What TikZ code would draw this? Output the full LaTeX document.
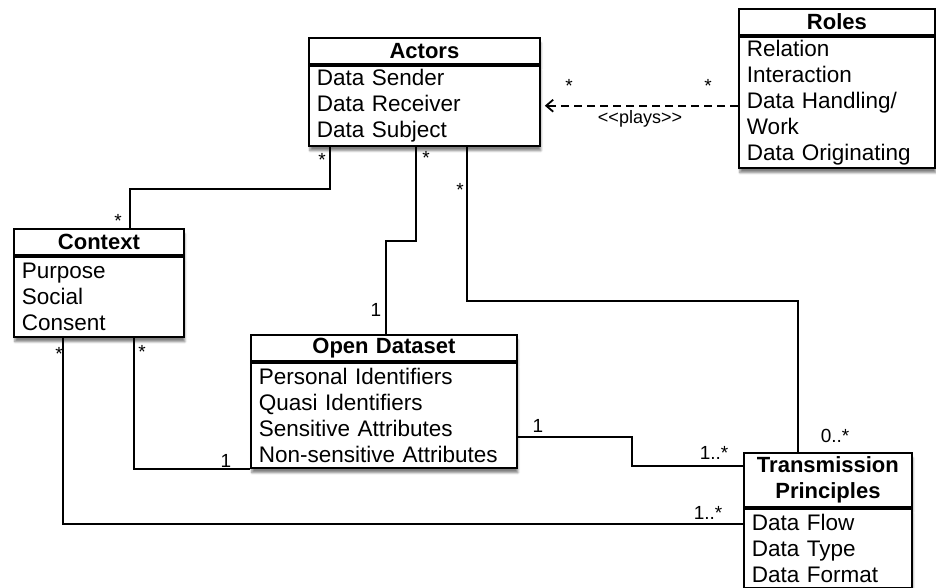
\documentclass[tikz,border=0pt]{standalone}
\usepackage{fontspec}
\setmainfont{Liberation Sans}
\usetikzlibrary{arrows.meta,shadows.blur}

\tikzset{
  classname/.style={draw, fill=white, line width=1.8pt, font=\bfseries\fontsize{22}{26}\selectfont,
    align=center, inner xsep=8pt, inner ysep=0pt, anchor=north west,
    blur shadow={shadow xshift=1pt, shadow yshift=-5pt, shadow opacity=50, shadow blur steps=6}},
  classbody/.style={draw, fill=white, line width=1.8pt, font=\fontsize{22.5}{26}\selectfont,
    align=left, inner xsep=8pt, inner ysep=0pt, anchor=north,
    blur shadow={shadow xshift=1pt, shadow yshift=-5pt, shadow opacity=50, shadow blur steps=6}},
  assoc/.style={line width=1.8pt},
  mult/.style={font=\fontsize{19}{20}\selectfont, inner sep=0pt},
}

\begin{document}
\begin{tikzpicture}[x=1pt, y=-1pt]
  \useasboundingbox (0,0) rectangle (936,587);

  % classes
  \node[classname, text width=215pt, minimum height=26pt] (actors) at (308,37) {Actors};
  \node[classbody, text width=215pt, minimum height=80pt] (actorsbody) at (actors.south)
    {Data Sender\\Data Receiver\\Data Subject};

  \node[classname, text width=180pt, minimum height=26pt] (roles) at (738,8) {Roles};
  \node[classbody, text width=180pt, minimum height=131pt] (rolesbody) at (roles.south)
    {Relation\\Interaction\\Data Handling/\\Work\\Data Originating};

  \node[classname, text width=154pt, minimum height=26pt] (context) at (13,228) {Context};
  \node[classbody, text width=154pt, minimum height=80pt] (contextbody) at (context.south)
    {Purpose\\Social\\Consent};

  \node[classname, text width=250pt, minimum height=26pt] (dataset) at (250,334) {Open Dataset};
  \node[classbody, text width=250pt, minimum height=105pt] (datasetbody) at (dataset.south)
    {Personal Identifiers\\Quasi Identifiers\\Sensitive Attributes\\Non-sensitive Attributes};

  \node[classname, text width=152pt, minimum height=54pt] (transmission) at (743,452)
    {Transmission\\Principles};
  \node[classbody, text width=152pt, minimum height=79pt] (transmissionbody) at (transmission.south)
    {Data Flow\\Data Type\\Data Format};

  % associations
  \draw[assoc] ([xshift=22pt]actorsbody.south west) -- ++(0,42) -| ([xshift=117pt]context.north west);
  \draw[assoc] ([xshift=108pt]actorsbody.south west) -- ++(0,94) -| ([xshift=136pt]dataset.north west);
  \draw[assoc] ([xshift=159pt]actorsbody.south west) -- ++(0,154) -| ([xshift=55pt]transmission.north west);
  \draw[assoc, dash pattern=on 8pt off 5pt, -{Straight Barb[length=7pt,width=12pt]}, shorten >=4pt]
    (actorsbody.east -| rolesbody.west) -- (actorsbody.east);
  \draw[assoc] ([xshift=121pt]contextbody.south west) |- (datasetbody.south west);
  \draw[assoc] ([xshift=50pt]contextbody.south west) |- ([yshift=-16pt]transmissionbody.north west);
  \draw[assoc] ([yshift=32pt]datasetbody.south east) -- ++(114,0) |- ([yshift=-14pt]transmission.north west);

  % multiplicities
  \node[mult] (m-act-ctx) at (322,160) {*};
  \node[mult] (m-ctx-act) at (118,221) {*};
  \node[mult] (m-act-ds) at (426,158) {*};
  \node[mult] (m-ds-act) at (376,310) {1};
  \node[mult] (m-act-tp) at (460,190) {*};
  \node[mult] (m-tp-act) at (835,436) {0..*};
  \node[mult] (m-act-rol) at (569,86) {*};
  \node[mult] (m-rol-act) at (708,86) {*};
  \node[font=\fontsize{18}{19}\selectfont, inner sep=0pt] (plays) at (640,119) {<{}<plays>{}>};
  \node[mult] (m-ctx-ds) at (142,352) {*};
  \node[mult] (m-ds-ctx) at (226,461) {1};
  \node[mult] (m-ctx-tp) at (59,354) {*};
  \node[mult] (m-tp-ctx) at (708,513) {1..*};
  \node[mult] (m-ds-tp) at (538,426) {1};
  \node[mult] (m-tp-ds) at (714,453) {1..*};
\end{tikzpicture}
\end{document}
